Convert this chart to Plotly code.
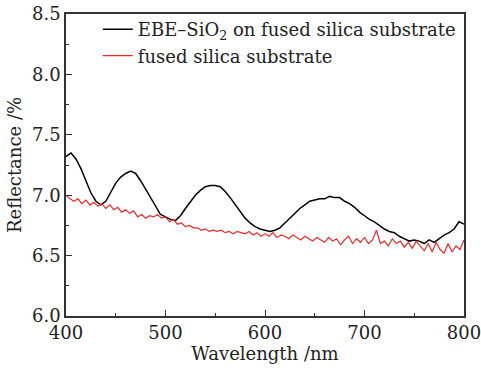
import numpy as np
import plotly.graph_objects as go

wl_black = list(range(400, 801, 5))
ref_black = [7.32, 7.35, 7.30, 7.22, 7.12, 7.02, 6.95, 6.92, 6.95, 7.03,
             7.10, 7.15, 7.18, 7.20, 7.18, 7.12, 7.05, 6.97, 6.90, 6.84,
             6.82, 6.80, 6.79, 6.83, 6.89, 6.95, 7.00, 7.04, 7.07, 7.08,
             7.08, 7.07, 7.03, 6.98, 6.92, 6.86, 6.81, 6.77, 6.74, 6.72,
             6.71, 6.70, 6.71, 6.73, 6.77, 6.81, 6.85, 6.89, 6.92, 6.95,
             6.96, 6.97, 6.97, 6.99, 6.98, 6.98, 6.95, 6.93, 6.90, 6.86,
             6.83, 6.80, 6.78, 6.75, 6.72, 6.70, 6.69, 6.66, 6.64, 6.62,
             6.63, 6.62, 6.60, 6.63, 6.61, 6.64, 6.67, 6.69, 6.72, 6.78,
             6.76]

wl_red = list(range(400, 801, 4))
ref_red = [7.00, 6.97, 6.95, 6.97, 6.93, 6.96, 6.92, 6.94, 6.91, 6.93,
           6.89, 6.92, 6.88, 6.90, 6.86, 6.88, 6.85, 6.87, 6.82, 6.84,
           6.81, 6.83, 6.82, 6.84, 6.81, 6.82, 6.78, 6.80, 6.76, 6.77,
           6.74, 6.75, 6.73, 6.73, 6.71, 6.72, 6.70, 6.71, 6.70, 6.71,
           6.69, 6.70, 6.68, 6.70, 6.69, 6.68, 6.70, 6.67, 6.69, 6.66,
           6.68, 6.66, 6.69, 6.65, 6.67, 6.66, 6.64, 6.67, 6.65, 6.63,
           6.66, 6.64, 6.62, 6.65, 6.63, 6.61, 6.65, 6.62, 6.64, 6.59,
           6.63, 6.66, 6.60, 6.64, 6.61, 6.65, 6.60, 6.63, 6.71, 6.60,
           6.62, 6.58, 6.64, 6.60, 6.62, 6.57, 6.61, 6.56, 6.62, 6.58,
           6.54, 6.60, 6.53, 6.61, 6.55, 6.52, 6.60, 6.53, 6.58, 6.55,
           6.63]

x_ticks = [400, 500, 600, 700, 800]
y_ticks = [6.0, 6.5, 7.0, 7.5, 8.0, 8.5]
y_labels = ["6.0", "6.5", "7.0", "7.5", "8.0", "8.5"]

FONT = "DejaVu Serif"

fig = go.Figure()
fig.add_trace(go.Scatter(x=wl_black, y=ref_black, mode="lines",
                         line=dict(color="black", width=1.5),
                         name="EBE–SiO<sub>2</sub> on fused silica substrate"))
fig.add_trace(go.Scatter(x=wl_red, y=ref_red, mode="lines",
                         line=dict(color="#ec2a2a", width=1.2),
                         name="fused silica substrate"))

axis_common = dict(showline=True, linecolor="#333", linewidth=1.5, mirror=True,
                   ticks="inside", ticklen=6, tickwidth=1.2, tickcolor="#333",
                   showgrid=False, zeroline=False, automargin=False,
                   ticklabeloverflow="allow",
                   tickfont=dict(family=FONT, size=18, color="#222"))

fig.update_xaxes(range=[400, 800], tickvals=x_ticks,
                 minor=dict(dtick=50, ticks="inside", ticklen=3, tickcolor="#333"),
                 title=dict(text="Wavelength /nm", font=dict(family=FONT, size=18, color="#222"), standoff=2),
                 **axis_common)
fig.update_yaxes(range=[6.0, 8.5], tickvals=y_ticks, ticktext=y_labels,
                 minor=dict(dtick=0.25, ticks="inside", ticklen=3, tickcolor="#333"),
                 title=dict(text="Reflectance /%", font=dict(family=FONT, size=18, color="#222"), standoff=6),
                 **axis_common)

fig.update_layout(width=481, height=371,
                  margin=dict(l=66, r=17, t=11, b=55),
                  paper_bgcolor="white", plot_bgcolor="white",
                  font=dict(family=FONT, size=18, color="#222"),
                  legend=dict(x=0.08, y=1.01, xanchor="left", yanchor="top",
                              bgcolor="rgba(0,0,0,0)", tracegroupgap=0,
                              font=dict(family=FONT, size=18, color="#222"),
                              itemwidth=30))
fig.write_html("out.html")
